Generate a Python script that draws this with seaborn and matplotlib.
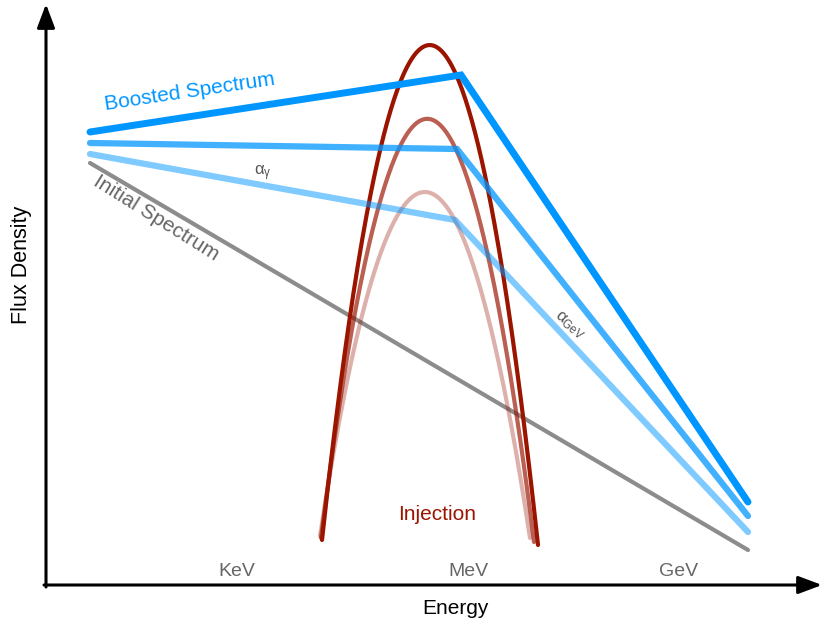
import numpy as np
import pandas as pd
import seaborn as sns
import matplotlib.pyplot as plt

# schematic spectra, positions in canvas units (y grows downward)
initial_x = [90, 748]
initial_y = [163, 550]

boosted_x = [[90, 461, 748], [90, 457, 748], [90, 455, 748]]
boosted_y = [[132, 75, 502], [143, 149, 516], [154, 220, 532]]
boosted_alpha = [1.0, 0.75, 0.5]

# injection bumps: left end, peak, right end
inj_x = [[322, 425, 538], [321, 425, 534], [320, 425, 530]]
inj_y = [[540, 46, 545], [538, 119, 542], [536, 192, 538]]
inj_alpha = [1.0, 0.68, 0.33]

energy_labels = ["KeV", "MeV", "GeV"]
energy_pos = [237, 468, 679]

sns.set_theme(style="white")
plt.rcParams["font.family"] = ["Liberation Sans", "DejaVu Sans"]
plt.rcParams["mathtext.fontset"] = "custom"
plt.rcParams["mathtext.rm"] = "Liberation Sans"
plt.rcParams["mathtext.it"] = "Liberation Sans"

blue = "#0096ff"
red = "#9a1400"

fig = plt.figure(figsize=(8.3, 6.32), dpi=100)
ax = fig.add_axes([0, 0, 1, 1])

sns.lineplot(x=initial_x, y=initial_y, color="#8c8c8c", lw=3, ax=ax,
             solid_capstyle="round", zorder=2)

for xs, ys, a in zip(inj_x, inj_y, inj_alpha):
    coef = np.polyfit(xs, ys, 2)
    xx = np.linspace(xs[0], xs[-1], 200)
    df = pd.DataFrame({"e": xx, "f": np.polyval(coef, xx)})
    sns.lineplot(data=df, x="e", y="f", color=red, alpha=a, lw=3, ax=ax,
                 sort=False, solid_capstyle="round", zorder=3)

for xs, ys, a, w in zip(boosted_x, boosted_y, boosted_alpha, [5, 4.5, 4.5]):
    sns.lineplot(x=xs, y=ys, color=blue, alpha=a, lw=w, ax=ax, sort=False,
                 solid_capstyle="round", solid_joinstyle="miter", zorder=4)

# axes with arrow heads
arrow = dict(arrowstyle="-|>,head_length=1.2,head_width=0.45", color="black",
             lw=2.2, shrinkA=0, shrinkB=0)
ax.annotate("", xy=(46, 4), xytext=(46, 587), arrowprops=arrow)
ax.annotate("", xy=(822, 585), xytext=(44, 585), arrowprops=arrow)

ax.text(190, 92, "Boosted Spectrum", color=blue, fontsize=15, rotation=8.5,
        ha="center", va="center", rotation_mode="anchor")
ax.text(156, 218, "Initial Spectrum", color="#666666", fontsize=15, rotation=-32,
        ha="center", va="center", rotation_mode="anchor")
ax.text(263, 173, r"$\alpha_{\gamma}$", color="#555555", fontsize=12,
        ha="center", va="center")
ax.text(569, 325, r"$\alpha_{GeV}$", color="#555555", fontsize=12, rotation=-40,
        ha="center", va="center", rotation_mode="anchor")
ax.text(437, 514, "Injection", color=red, fontsize=15, ha="center", va="center")

for lab, xp in zip(energy_labels, energy_pos):
    ax.text(xp, 571, lab, color="#666666", fontsize=14, ha="center", va="center")

ax.text(455, 608, "Energy", color="black", fontsize=15, ha="center", va="center")
ax.text(21, 265, "Flux Density", color="black", fontsize=15.5, rotation=90,
        ha="center", va="center")

ax.set_xlim(0, 830)
ax.set_ylim(632, 0)
ax.axis("off")

fig.savefig("out.png", dpi=100)
